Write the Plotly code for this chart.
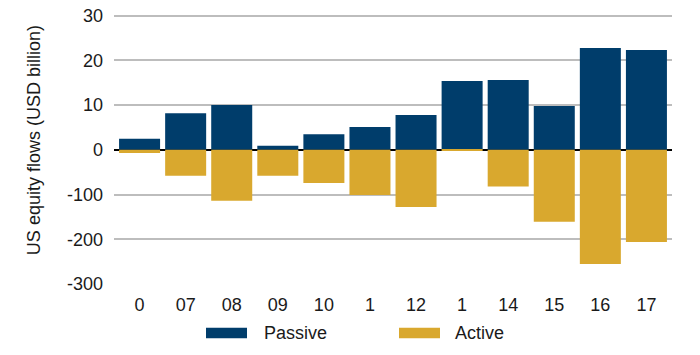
import plotly.graph_objects as go

categories = ["0", "07", "08", "09", "10", "1", "12", "1", "14", "15", "16", "17"]
passive = [2.5, 8.2, 10.0, 0.9, 3.5, 5.1, 7.8, 15.4, 15.6, 9.8, 22.8, 22.3]
active = [-7, -58, -114, -58, -74, -101, -128, -1, -82, -161, -255, -206]
y_ticks = [30, 20, 10, 0, -100, -200, -300]

PASSIVE_C = "#003d6b"
ACTIVE_C = "#d9a82e"
FONT = "Liberation Sans, Arial, sans-serif"
TXT = "#1a1a1a"
FS = 18

# split-scale axis: positive side in units of 10, negative side in units of 100
def scale(v):
    return v if v >= 0 else v / 10.0

# page body margin is removed by post_script below, so page pixels = figure pixels
OFF = 0
Y_TOP_PAGE, Y_BOT_PAGE = 15.7, 283.7   # page pixel of +30 and -300 gridlines
EXTRA = 0.6                             # range headroom so top tick is shown
unit = (Y_BOT_PAGE - Y_TOP_PAGE) / 60.0
W, H = 700 - 2 * OFF, 355 - 2 * OFF
ML = 114 - OFF
MR = W - (672 - OFF)
MT = Y_TOP_PAGE - EXTRA * unit - OFF
MB = H - (Y_BOT_PAGE - OFF)
PW, PH = W - ML - MR, H - MT - MB

def px(x):  # page pixel -> paper x
    return (x - OFF - ML) / PW

def py(y):  # page pixel -> paper y
    return (H - MB - (y - OFF)) / PH

xs = list(range(len(categories)))

fig = go.Figure()
fig.add_trace(go.Bar(x=xs, y=[scale(v) for v in passive], name="Passive",
                     marker=dict(color=PASSIVE_C, line=dict(width=0)),
                     customdata=passive, hovertemplate="%{customdata}<extra>Passive</extra>"))
fig.add_trace(go.Bar(x=xs, y=[scale(v) for v in active], name="Active",
                     marker=dict(color=ACTIVE_C, line=dict(width=0)),
                     customdata=active, hovertemplate="%{customdata}<extra>Active</extra>"))

fig.update_layout(
    width=W, height=H, autosize=False,
    margin=dict(l=ML, r=MR, t=MT, b=MB, pad=0, autoexpand=False),
    paper_bgcolor="white", plot_bgcolor="white",
    barmode="relative", bargap=0.11,
    showlegend=False,
    font=dict(family=FONT, size=FS, color=TXT),
)
fig.update_xaxes(
    range=[-0.555, 11.555],
    tickvals=xs, ticktext=categories,
    showgrid=False, zeroline=False, showline=False, ticks="",
    ticklabelstandoff=8, automargin=False, ticklabeloverflow="allow",
    tickfont=dict(family=FONT, size=FS, color=TXT),
)
fig.update_yaxes(
    range=[-30, 30 + EXTRA],
    tickvals=[scale(v) for v in y_ticks], ticktext=[str(v) for v in y_ticks],
    showgrid=True, gridcolor="#bdbdbd", gridwidth=1.5,
    zeroline=True, zerolinecolor="#000000", zerolinewidth=2,
    showline=False, ticks="", ticklabelstandoff=10, automargin=False,
    ticklabeloverflow="allow",
    tickfont=dict(family=FONT, size=FS, color=TXT),
)

# y-axis title
fig.add_annotation(text="US equity flows (USD billion)", textangle=-90,
                   xref="paper", yref="paper", x=px(33.5), y=py(140.5),
                   showarrow=False, font=dict(family=FONT, size=FS, color=TXT),
                   xanchor="center", yanchor="middle")

# manual legend
legend_items = [("Passive", PASSIVE_C, 206, 262), ("Active", ACTIVE_C, 399, 453)]
for name, color, sx, tx in legend_items:
    fig.add_shape(type="rect", xref="paper", yref="paper",
                  x0=px(sx), x1=px(sx + 41), y0=py(338), y1=py(327.5),
                  fillcolor=color, line=dict(width=0))
    fig.add_annotation(text=name, xref="paper", yref="paper", x=px(tx), y=py(332.7),
                       showarrow=False, xanchor="left", yanchor="middle",
                       font=dict(family=FONT, size=FS, color=TXT))

fig.write_html("out.html",
               config={"displayModeBar": False},
               post_script="document.body.style.margin='0px';document.body.style.overflow='hidden';")
